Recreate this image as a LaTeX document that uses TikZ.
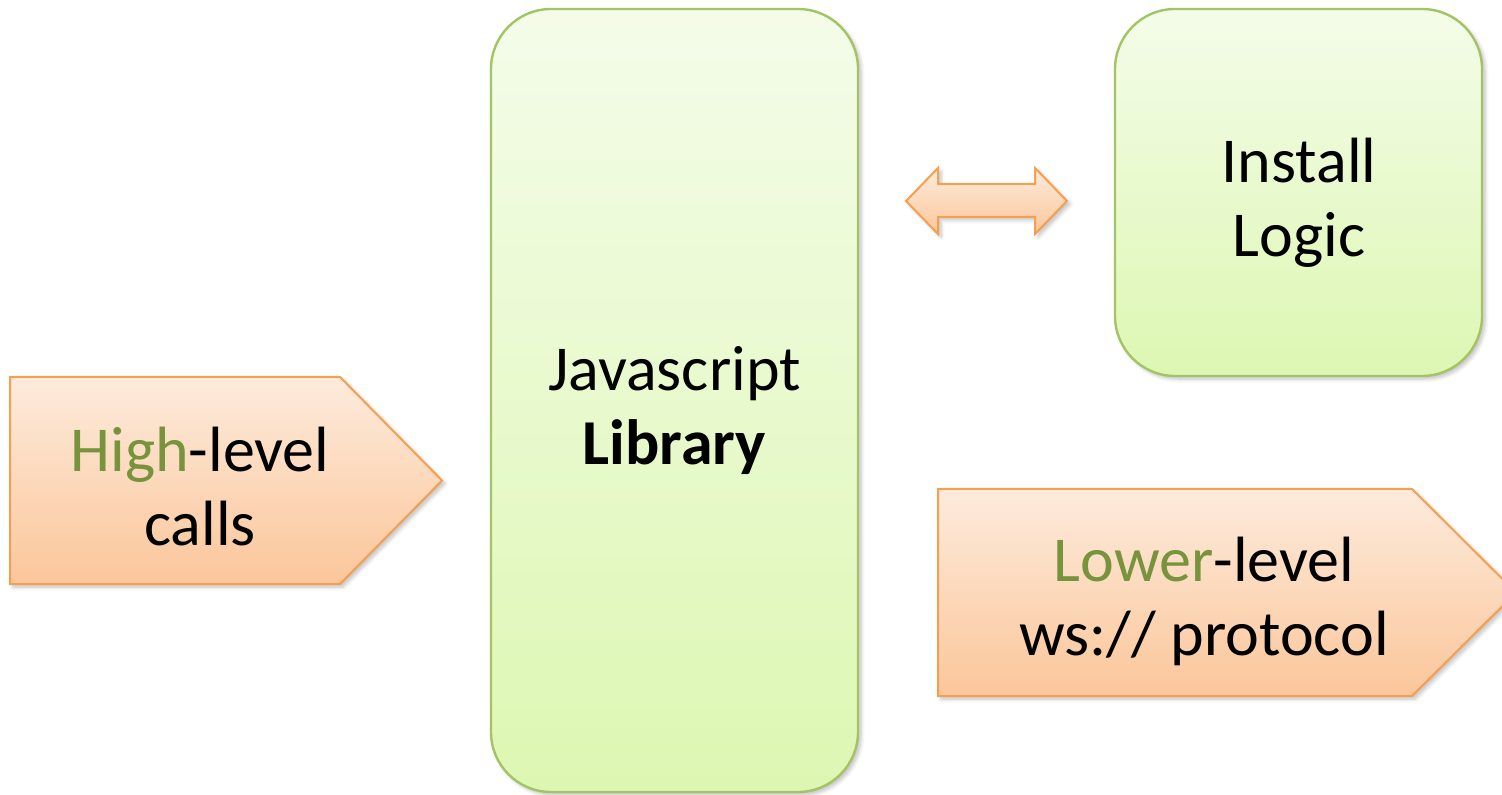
\documentclass[tikz,border=0pt]{standalone}
\usepackage{fontspec}
\setmainfont{Carlito}
\usetikzlibrary{shadows.blur}
\definecolor{gtop}{HTML}{F4FCE9}
\definecolor{gbot}{HTML}{DDF7B2}
\definecolor{gline}{HTML}{A3C464}
\definecolor{otop}{HTML}{FDEBDC}
\definecolor{obot}{HTML}{FBC69A}
\definecolor{oline}{HTML}{F79F4E}
\definecolor{tgreen}{HTML}{77933C}
\tikzset{
  greenbox/.style={top color=gtop, bottom color=gbot, draw=gline, line width=1.2pt, rounded corners=30pt,
    blur shadow={shadow xshift=1.5pt, shadow yshift=-1.5pt, shadow blur steps=6, shadow opacity=25}},
  orangeshape/.style={top color=otop, bottom color=obot, draw=oline, line width=1pt, line join=miter,
    blur shadow={shadow xshift=1.5pt, shadow yshift=-1.5pt, shadow blur steps=6, shadow opacity=25}},
  label/.style={align=center, font=\fontsize{32}{37}\selectfont, text=black, inner sep=0pt}
}
\begin{document}
\begin{tikzpicture}[x=0.5pt,y=-0.5pt]
\useasboundingbox (0,0) rectangle (1502,795);
\begin{scope}
\clip (0,0) rectangle (1502,795);
% library box
\path[greenbox] (491,9) rectangle (858,792);
% install logic box
\path[greenbox] (1115,9) rectangle (1482,376);
% double arrow
\path[orangeshape] (906,201) -- (938,168) -- (938,184) -- (1035,184) -- (1035,168) -- (1067,201)
  -- (1035,234) -- (1035,217) -- (938,217) -- (938,234) -- cycle;
% high-level pentagon
\path[orangeshape] (10,377) -- (340,377) -- (442,480.5) -- (340,584) -- (10,584) -- cycle;
% lower-level pentagon
\path[orangeshape] (938,489) -- (1412,489) -- (1516,592.5) -- (1412,696) -- (938,696) -- cycle;
\end{scope}
\node[label] (lib) at (674.5,411) {Javascript\\\textbf{Library}};
\node[label] (inst) at (1299,203) {Install\\Logic};
\node[label] (high) at (200,487) {\textcolor{tgreen}{High}-level\\calls};
\node[label] (low) at (1204,601) {\textcolor{tgreen}{Lower}-level\\ws:// protocol};
\end{tikzpicture}
\end{document}
